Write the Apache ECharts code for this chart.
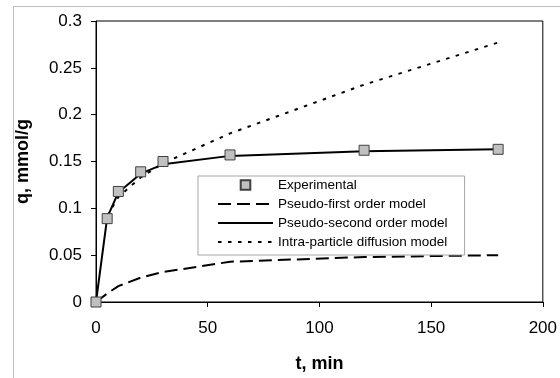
<!DOCTYPE html>
<html>
<head>
<meta charset="utf-8">
<script src="https://cdn.jsdelivr.net/npm/echarts@6/dist/echarts.min.js"></script>
<style>
  html, body { margin: 0; padding: 0; background: #fff; }
  #chart { width: 560px; height: 378px; }
</style>
</head>
<body>
<div id="chart"></div>
<script>
// Contact time, min
const times = [0, 5, 10, 20, 30, 60, 120, 180];
// Measured uptake, mmol/g
const experimental = [0, 0.089, 0.118, 0.139, 0.150, 0.157, 0.162, 0.163];
// Kinetic model curves, mmol/g
const pseudoFirst = [0, 0.009, 0.017, 0.026, 0.032, 0.043, 0.048, 0.050];
const pseudoSecond = [0, 0.090, 0.117, 0.137, 0.147, 0.156, 0.161, 0.163];
const intraParticle = [null, 0.092, 0.112, 0.133, 0.148, 0.180, 0.232, 0.277];

const pairs = (ys) => times.map((t, i) => [t, ys[i]]).filter(p => p[1] !== null);

const font = '"Liberation Sans", Arial, sans-serif';
const chart = echarts.init(document.getElementById('chart'), null, { renderer: 'canvas' });

// legend rows for the model curves show only the line pattern
const lineOnly = (name) => ({ name: name, itemStyle: { opacity: 0 } });

chart.setOption({
  backgroundColor: '#fff',
  animation: false,
  graphic: [{
    type: 'rect',
    shape: { x: 13.5, y: 6.5, width: 600, height: 420 },
    style: { fill: 'none', stroke: '#bfbfbf', lineWidth: 1 },
    silent: true, z: -10
  }],
  grid: {
    left: 96, right: 15, top: 21, bottom: 66,
    show: true, borderColor: '#000', borderWidth: 1, backgroundColor: '#fff'
  },
  legend: {
    orient: 'vertical',
    left: 198, top: 176,
    padding: [2, 17, 6, 19],
    itemWidth: 55, itemHeight: 12, itemGap: 5,
    backgroundColor: '#fff',
    borderColor: '#a6a6a6', borderWidth: 1,
    textStyle: { fontFamily: font, fontSize: 13.5, lineHeight: 14, color: '#000' },
    data: [
      'Experimental',
      lineOnly('Pseudo-first order model'),
      lineOnly('Pseudo-second order model'),
      lineOnly('Intra-particle diffusion model')
    ]
  },
  xAxis: {
    type: 'value', min: 0, max: 200, interval: 50,
    name: 't, min', nameLocation: 'middle', nameGap: 53,
    nameTextStyle: { fontFamily: font, fontSize: 18, fontWeight: 'bold', color: '#000' },
    axisLine: { show: true, lineStyle: { color: '#000', width: 1 } },
    axisTick: { show: true, inside: false, length: 5, lineStyle: { color: '#000' } },
    axisLabel: { fontFamily: font, fontSize: 17, color: '#000', margin: 18 },
    splitLine: { show: false }
  },
  yAxis: {
    type: 'value', min: 0, max: 0.3, interval: 0.05,
    name: 'q, mmol/g', nameLocation: 'middle', nameGap: 64, nameRotate: 90,
    nameTextStyle: { fontFamily: font, fontSize: 18, fontWeight: 'bold', color: '#000' },
    axisLine: { show: true, lineStyle: { color: '#000', width: 1 } },
    axisTick: { show: true, inside: false, length: 5, lineStyle: { color: '#000' } },
    axisLabel: { fontFamily: font, fontSize: 17, color: '#000', margin: 14 },
    splitLine: { show: false }
  },
  series: [
    {
      name: 'Pseudo-first order model', type: 'line', data: pairs(pseudoFirst),
      symbol: 'none', z: 2,
      lineStyle: { color: '#000', width: 2, type: [13, 6] },
      itemStyle: { color: '#000' }
    },
    {
      name: 'Pseudo-second order model', type: 'line', data: pairs(pseudoSecond),
      symbol: 'none', z: 2,
      lineStyle: { color: '#000', width: 2, type: 'solid' },
      itemStyle: { color: '#000' }
    },
    {
      name: 'Intra-particle diffusion model', type: 'line', data: pairs(intraParticle),
      symbol: 'none', z: 2,
      lineStyle: { color: '#000', width: 2, type: [3.5, 6.5] },
      itemStyle: { color: '#000' }
    },
    {
      name: 'Experimental', type: 'line', data: pairs(experimental),
      symbol: 'rect', symbolSize: 10, z: 5,
      lineStyle: { width: 0, opacity: 0 },
      itemStyle: { color: '#c0c0c0', borderColor: '#404040', borderWidth: 1, opacity: 1 }
    }
  ]
});
</script>
</body>
</html>
